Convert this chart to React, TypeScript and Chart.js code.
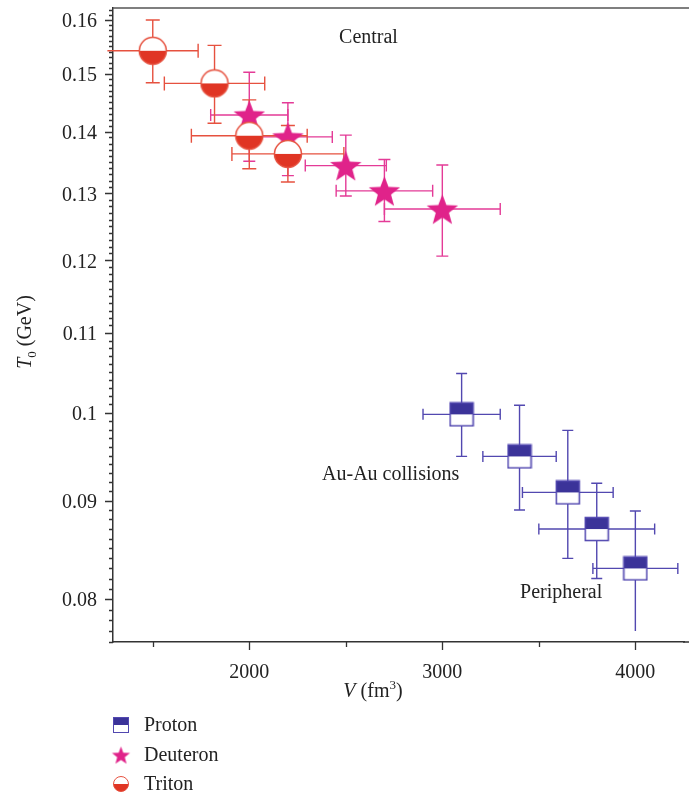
import { useEffect, useRef } from "react";
import { Chart, registerables } from "chart.js";
Chart.register(...registerables);

// ---------- data ----------
const protonV = [3100, 3400, 3650, 3800, 4000];
const protonT = [0.0998, 0.0949, 0.0909, 0.087, 0.083];
const protonVErr = [200, 190, 235, 300, 220];
const protonTLow = [0.0949, 0.089, 0.084, 0.082, 0.077];
const protonTHigh = [0.1048, 0.1009, 0.0979, 0.0919, 0.0889];

const deuteronV = [2000, 2200, 2500, 2700, 3000];
const deuteronT = [0.1428, 0.1391, 0.1344, 0.1304, 0.1276];
const deuteronVErr = [200, 230, 210, 250, 300];
const deuteronTLow = [0.1351, 0.1328, 0.1296, 0.1257, 0.1206];
const deuteronTHigh = [0.1503, 0.1449, 0.1394, 0.1354, 0.1345];

const tritonV = [1500, 1820, 2000, 2200];
const tritonT = [0.1542, 0.1483, 0.1393, 0.1363];
const tritonVErr = [235, 260, 300, 290];
const tritonTLow = [0.1484, 0.1414, 0.1339, 0.1318];
const tritonTHigh = [0.16, 0.1552, 0.1454, 0.141];

const yTickLabels = [0.08, 0.09, 0.1, 0.11, 0.12, 0.13, 0.14, 0.15, 0.16];
const yMinorStep = 0.001;
const xTickLabels = [2000, 3000, 4000];
const xMinorTicks = [1500, 2500, 3500];

const annotations = [
  { text: "Central", x: 2465, y: 0.1566 },
  { text: "Au-Au collisions", x: 2377, y: 0.0928 },
  { text: "Peripheral", x: 3403, y: 0.0806 },
];

const legendItems = ["Proton", "Deuteron", "Triton"];

// ---------- styles ----------
const SERIF = '"Liberation Serif", "DejaVu Serif", serif';
const RED = "#e03524";
const RED_ERR = "#e6513f";
const PINK = "#e0238a";
const PINK_ERR = "#e43b97";
const BLUE = "#3b3399";
const BLUE_ERR = "#5248b0";

function makeTriton(d: number) {
  const c = document.createElement("canvas");
  const s = d + 3;
  c.width = s;
  c.height = s;
  const g = c.getContext("2d")!;
  const r = d / 2;
  const cx = s / 2;
  g.beginPath();
  g.arc(cx, cx, r, Math.PI, 0);
  g.closePath();
  g.fillStyle = "#ffffff";
  g.fill();
  g.beginPath();
  g.arc(cx, cx, r, 0, Math.PI);
  g.closePath();
  g.fillStyle = RED;
  g.fill();
  g.beginPath();
  g.arc(cx, cx, r, 0, Math.PI * 2);
  g.strokeStyle = RED_ERR;
  g.lineWidth = Math.max(1, d / 18);
  g.stroke();
  return c;
}

function makeProton(w: number) {
  const c = document.createElement("canvas");
  const s = w + 3;
  c.width = s;
  c.height = s;
  const g = c.getContext("2d")!;
  const o = 1.5;
  g.fillStyle = "#ffffff";
  g.fillRect(o, o, w, w);
  g.fillStyle = BLUE;
  g.fillRect(o, o, w, w / 2);
  g.strokeStyle = BLUE_ERR;
  g.lineWidth = Math.max(1, w / 15);
  g.strokeRect(o, o, w, w);
  return c;
}

function makeStar(R: number) {
  const c = document.createElement("canvas");
  const s = Math.ceil(2 * R + 2);
  c.width = s;
  c.height = s;
  const g = c.getContext("2d")!;
  const cx = s / 2;
  const cy = s / 2 + R * 0.1;
  const ri = R * 0.42;
  g.beginPath();
  for (let i = 0; i < 10; i++) {
    const rr = i % 2 === 0 ? R : ri;
    const a = -Math.PI / 2 + (i * Math.PI) / 5;
    const px = cx + rr * Math.cos(a);
    const py = cy + rr * Math.sin(a);
    if (i === 0) g.moveTo(px, py);
    else g.lineTo(px, py);
  }
  g.closePath();
  g.fillStyle = PINK;
  g.fill();
  return c;
}

const zeroPadding = (scale: any) => {
  scale.paddingTop = 0;
  scale.paddingBottom = 0;
  scale.paddingLeft = 0;
  scale.paddingRight = 0;
};

export default function App() {
  const ref = useRef<HTMLCanvasElement>(null);

  useEffect(() => {
    document.body.style.margin = "0";
    const canvas = ref.current!;
    const tritonImg = makeTriton(27);
    const protonImg = makeProton(23);
    const starImg = makeStar(16.5);
    const legendImgs = [makeProton(15), makeStar(9.5), makeTriton(15)];

    const errorSets = [
      { v: protonV, t: protonT, ve: protonVErr, lo: protonTLow, hi: protonTHigh, color: BLUE_ERR, cap: 11 },
      { v: deuteronV, t: deuteronT, ve: deuteronVErr, lo: deuteronTLow, hi: deuteronTHigh, color: PINK_ERR, cap: 12 },
      { v: tritonV, t: tritonT, ve: tritonVErr, lo: tritonTLow, hi: tritonTHigh, color: RED_ERR, cap: 14 },
    ];

    const errorBarPlugin = {
      id: "errorBars",
      beforeDatasetsDraw(chart: any) {
        const ctx = chart.ctx;
        const xs = chart.scales.x;
        const ys = chart.scales.y;
        const area = chart.chartArea;
        ctx.save();
        ctx.lineWidth = 1.4;
        errorSets.forEach((s) => {
          ctx.strokeStyle = s.color;
          s.v.forEach((v, i) => {
            const px = xs.getPixelForValue(v);
            const py = ys.getPixelForValue(s.t[i]);
            const xl = xs.getPixelForValue(v - s.ve[i]);
            const xr = xs.getPixelForValue(v + s.ve[i]);
            const yt = ys.getPixelForValue(s.hi[i]);
            const yb = ys.getPixelForValue(s.lo[i]);
            const h = s.cap / 2;
            ctx.beginPath();
            ctx.moveTo(Math.max(xl, area.left - 7), py);
            ctx.lineTo(xr, py);
            ctx.moveTo(px, yt);
            ctx.lineTo(px, yb);
            if (xl >= area.left) {
              ctx.moveTo(xl, py - h);
              ctx.lineTo(xl, py + h);
            }
            ctx.moveTo(xr, py - h);
            ctx.lineTo(xr, py + h);
            ctx.moveTo(px - h, yt);
            ctx.lineTo(px + h, yt);
            if (yb < area.bottom - 14) {
              ctx.moveTo(px - h, yb);
              ctx.lineTo(px + h, yb);
            }
            ctx.stroke();
          });
        });
        ctx.restore();
      },
    };

    const decorPlugin = {
      id: "decor",
      afterDraw(chart: any) {
        const ctx = chart.ctx;
        const xs = chart.scales.x;
        const ys = chart.scales.y;
        const area = chart.chartArea;
        ctx.save();
        // ticks
        ctx.strokeStyle = "#333333";
        ctx.lineWidth = 1.3;
        ctx.beginPath();
        ys.ticks.forEach((t: any) => {
          const y = Math.round(ys.getPixelForValue(t.value)) + 0.5;
          const major = yTickLabels.some((v) => Math.abs(v - t.value) < 1e-9);
          ctx.moveTo(area.left - (major ? 8 : 4), y);
          ctx.lineTo(area.left, y);
        });
        xTickLabels.forEach((v) => {
          const x = Math.round(xs.getPixelForValue(v)) + 0.5;
          ctx.moveTo(x, area.bottom);
          ctx.lineTo(x, area.bottom + 8);
        });
        xMinorTicks.forEach((v) => {
          const x = Math.round(xs.getPixelForValue(v)) + 0.5;
          ctx.moveTo(x, area.bottom);
          ctx.lineTo(x, area.bottom + 5);
        });
        ctx.stroke();
        // top border
        ctx.strokeStyle = "#555555";
        ctx.lineWidth = 1.5;
        ctx.beginPath();
        ctx.moveTo(area.left, area.top);
        ctx.lineTo(chart.width, area.top);
        ctx.stroke();
        // bottom axis continues to the edge
        ctx.strokeStyle = "#333333";
        ctx.beginPath();
        ctx.moveTo(area.right - 1, area.bottom);
        ctx.lineTo(chart.width, area.bottom);
        ctx.stroke();

        // annotations
        ctx.fillStyle = "#222222";
        ctx.font = `20px ${SERIF}`;
        ctx.textBaseline = "middle";
        ctx.textAlign = "left";
        annotations.forEach((a) => {
          ctx.fillText(a.text, xs.getPixelForValue(a.x), ys.getPixelForValue(a.y));
        });

        // x title: V (fm^3)
        ctx.textBaseline = "alphabetic";
        const xParts = [
          { s: "V", f: `italic 20px ${SERIF}`, dy: 0 },
          { s: " (fm", f: `20px ${SERIF}`, dy: 0 },
          { s: "3", f: `13px ${SERIF}`, dy: -8 },
          { s: ")", f: `20px ${SERIF}`, dy: 0 },
        ];
        let tw = 0;
        xParts.forEach((p) => {
          ctx.font = p.f;
          tw += ctx.measureText(p.s).width;
        });
        let cx = 373 - tw / 2;
        const by = 697;
        xParts.forEach((p) => {
          ctx.font = p.f;
          ctx.fillText(p.s, cx, by + p.dy);
          cx += ctx.measureText(p.s).width;
        });

        // y title: T_0 (GeV)
        const yParts = [
          { s: "T", f: `italic 20px ${SERIF}`, dy: 0 },
          { s: "0", f: `13px ${SERIF}`, dy: 5 },
          { s: " (GeV)", f: `20px ${SERIF}`, dy: 0 },
        ];
        let th = 0;
        yParts.forEach((p) => {
          ctx.font = p.f;
          th += ctx.measureText(p.s).width;
        });
        ctx.save();
        ctx.translate(31, 332);
        ctx.rotate(-Math.PI / 2);
        let ty = -th / 2;
        yParts.forEach((p) => {
          ctx.font = p.f;
          ctx.fillText(p.s, ty, p.dy);
          ty += ctx.measureText(p.s).width;
        });
        ctx.restore();

        // legend
        const ly = [725, 755, 784];
        ctx.font = `20px ${SERIF}`;
        ctx.textBaseline = "middle";
        legendItems.forEach((name, i) => {
          const img = legendImgs[i];
          ctx.drawImage(img, 121 - img.width / 2, ly[i] - img.height / 2);
          ctx.fillText(name, 144, ly[i] + 1);
        });
        ctx.restore();
      },
    };

    const toPts = (xs: number[], ys: number[]) => xs.map((x, i) => ({ x, y: ys[i] }));

    const chart = new Chart(canvas, {
      type: "scatter",
      data: {
        datasets: [
          {
            label: "Triton",
            data: toPts(tritonV, tritonT),
            pointStyle: tritonImg as any,
            order: 0,
          },
          {
            label: "Deuteron",
            data: toPts(deuteronV, deuteronT),
            pointStyle: starImg as any,
            order: 1,
          },
          {
            label: "Proton",
            data: toPts(protonV, protonT),
            pointStyle: protonImg as any,
            order: 2,
          },
        ],
      },
      options: {
        responsive: false,
        animation: false,
        devicePixelRatio: 1,
        events: [],
        layout: { padding: { top: 8, right: 0, left: 0, bottom: 0 } },
        plugins: {
          legend: { display: false },
          tooltip: { enabled: false },
        },
        scales: {
          x: {
            type: "linear",
            min: 1294,
            max: 4252,
            grid: { display: false, drawTicks: false },
            border: { display: true, color: "#333333", width: 1.5 },
            afterBuildTicks: (scale: any) => {
              scale.ticks = xTickLabels.map((v) => ({ value: v }));
            },
            afterFit: (scale: any) => {
              scale.height = 155;
              zeroPadding(scale);
            },
            ticks: {
              autoSkip: false,
              maxRotation: 0,
              padding: 19,
              color: "#222222",
              font: { family: SERIF, size: 20 },
              callback: (v: any) => String(v),
            },
          },
          y: {
            type: "logarithmic",
            min: 0.076,
            max: 0.1623,
            grid: { display: false, drawTicks: false },
            border: { display: true, color: "#333333", width: 1.5 },
            afterBuildTicks: (scale: any) => {
              const t: any[] = [];
              for (let k = 76; k <= 162; k++) t.push({ value: k * yMinorStep });
              scale.ticks = t;
            },
            afterFit: (scale: any) => {
              scale.width = 113;
              zeroPadding(scale);
            },
            ticks: {
              autoSkip: false,
              padding: 16,
              labelOffset: 2,
              color: "#222222",
              font: { family: SERIF, size: 20 },
              callback: (v: any) => {
                const m = yTickLabels.find((l) => Math.abs(l - v) < 1e-9);
                return m === undefined ? "" : String(m);
              },
            },
          },
        },
      },
      plugins: [errorBarPlugin, decorPlugin],
    });
    return () => chart.destroy();
  }, []);

  return (
    <div style={{ width: 689, height: 797 }}>
      <canvas ref={ref} width={689} height={797} style={{ display: "block" }} />
    </div>
  );
}
